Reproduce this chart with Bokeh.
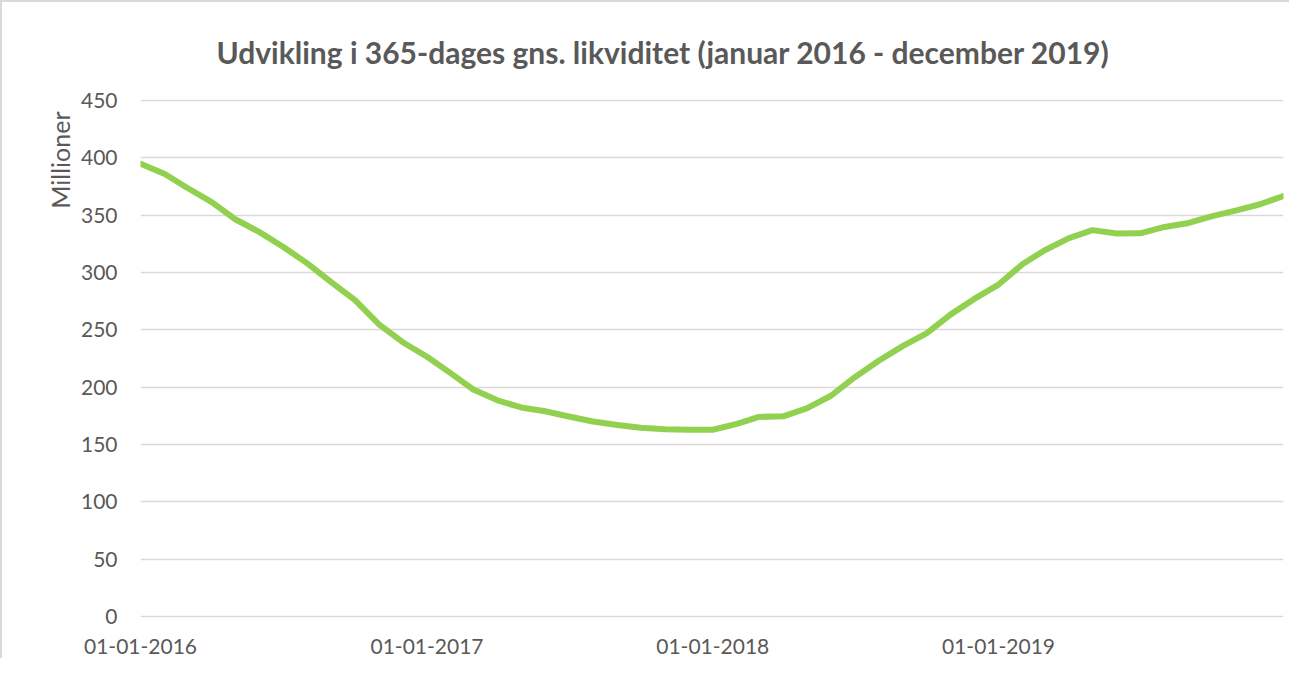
import pandas as pd
from bokeh.plotting import figure
from bokeh.models import Range1d, FixedTicker, DatetimeTickFormatter, Title
from bokeh.embed import file_html
from bokeh.resources import INLINE

# ---- data ----
dates = pd.date_range("2016-01-01", "2019-12-01", freq="MS").strftime("%Y-%m-%d").tolist() + ["2019-12-31"]
values = [395, 386, 373.8, 361.5, 346.5, 335.3, 322.5, 308, 291.5, 276, 254.6, 239.2,
          226.5, 211.8, 198, 188.5, 182.3, 179, 174.4, 170, 167, 164.5, 163.2, 162.8,
          162.8, 168, 174, 174.5, 181.5, 192.5, 208.5, 223, 236, 247, 263.5, 277,
          289.5, 307.5, 319.5, 330, 337, 334, 334.2, 339.8, 343.3, 349.2, 354.3, 359.6,
          366.8]
y_ticks = [0, 50, 100, 150, 200, 250, 300, 350, 400, 450]
x_tick_dates = ["2016-01-01", "2017-01-01", "2018-01-01", "2019-01-01"]
title_text = "Udvikling i 365-dages gns. likviditet (januar 2016 - december 2019)"
y_label_text = "Millioner"

x = pd.to_datetime(dates)
FONT = "Lato"
TXT = "#595959"

p = figure(width=1289, height=658, x_axis_type="datetime",
           output_backend="svg", toolbar_location=None,
           x_range=Range1d(pd.Timestamp("2016-01-01"), pd.Timestamp("2019-12-31")),
           y_range=Range1d(-1, 451),
           min_border_left=138, min_border_top=95, min_border_right=8, min_border_bottom=43)
p.styles = {"border-left": "2px solid #d9d9d9", "border-top": "2px solid #d9d9d9"}
p.outline_line_color = None
p.background_fill_color = "white"
p.border_fill_color = "white"

p.line(x, values, line_color="#92D050", line_width=6, line_join="round", line_cap="round")

# axes
p.yaxis.ticker = FixedTicker(ticks=y_ticks)
p.xaxis.ticker = FixedTicker(ticks=[pd.Timestamp(d).value / 1e6 for d in x_tick_dates])
p.xaxis.formatter = DatetimeTickFormatter(years="%d-%m-%Y", months="%d-%m-%Y", days="%d-%m-%Y")
for ax in (p.xaxis[0], p.yaxis[0]):
    ax.axis_line_color = None
    ax.major_tick_line_color = None
    ax.minor_tick_line_color = None
    ax.major_label_text_font = FONT
    ax.major_label_text_font_size = "21px"
    ax.major_label_text_color = TXT
p.yaxis.major_label_standoff = 17
p.xaxis.major_label_standoff = 15

p.xgrid.grid_line_color = None
p.ygrid.grid_line_color = "#d9d9d9"
p.ygrid.grid_line_width = 1.5

# title and y-axis label
p.title.text = title_text
p.title.align = "left"
p.title.offset = 76
p.title.text_font = FONT
p.title.text_font_style = "bold"
p.title.text_font_size = "30px"
p.title.text_color = TXT
p.title.standoff = 59

p.add_layout(Title(text=y_label_text, align="right", offset=12, text_font=FONT,
                   text_font_style="normal", text_font_size="25px", text_color=TXT,
                   standoff=5), "left")

open("out.html", "w").write(file_html(p, INLINE))
